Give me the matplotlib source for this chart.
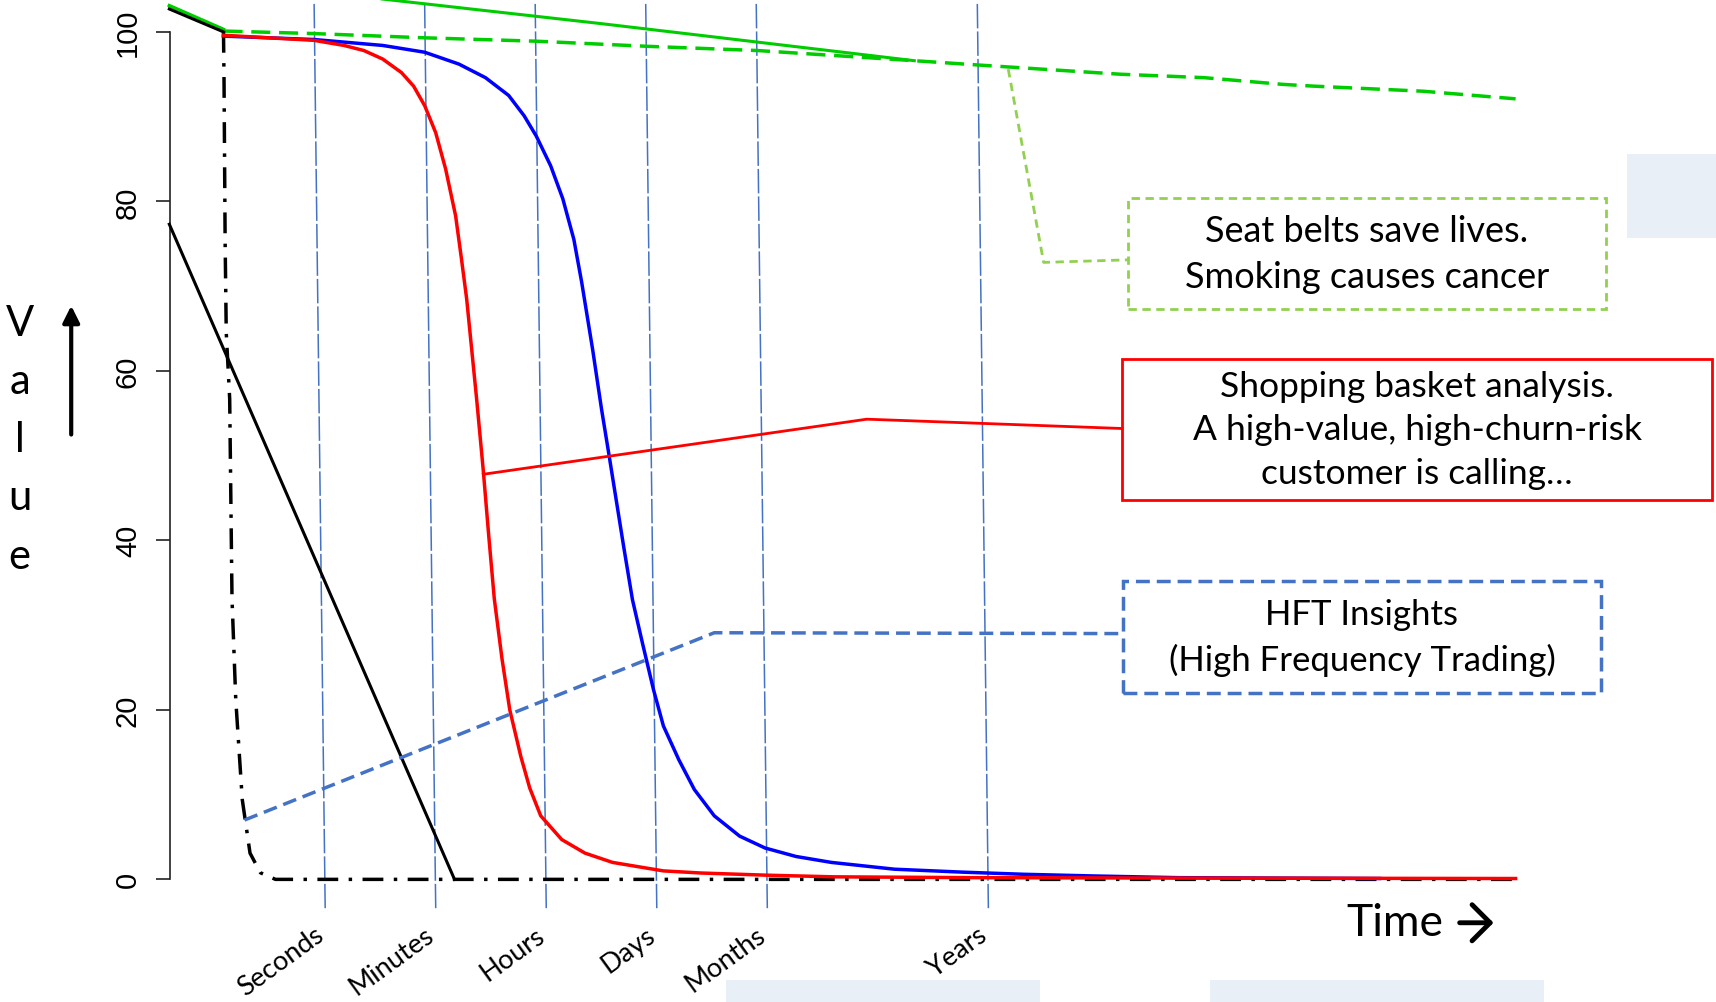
import matplotlib.pyplot as plt
from matplotlib.patches import Rectangle

# time scale: position of each time label on the x axis
time_labels = ["Seconds", "Minutes", "Hours", "Days", "Months", "Years"]
time_pos = [1, 2, 3, 4, 5, 7]

# value curves
red_x = [0.18, 1.0, 1.27, 1.45, 1.62, 1.79, 1.90, 2.0, 2.10, 2.19, 2.28, 2.33, 2.38, 2.47,
         2.53, 2.58, 2.63, 2.70, 2.77, 2.87, 2.95, 3.05, 3.24, 3.45, 3.70, 4.16, 4.50,
         5.08, 5.70, 7.0, 9.0, 11.87]
red_y = [99.6, 99.0, 98.4, 97.8, 96.8, 95.2, 93.6, 91.3, 88.1, 83.8, 78.3, 73.5, 68.5, 56.7,
         48.3, 40.5, 33.1, 26.0, 20.0, 14.5, 10.8, 7.5, 4.7, 3.1, 2.0, 1.0, 0.75,
         0.5, 0.3, 0.2, 0.15, 0.1]

blue_x = [0.18, 1.0, 1.62, 2.0, 2.31, 2.55, 2.76, 2.90, 3.01, 3.14, 3.25, 3.35, 3.42, 3.52,
          3.60, 3.67, 3.80, 3.88, 3.97, 4.07, 4.16, 4.30, 4.44, 4.62, 4.85, 5.08, 5.36,
          5.68, 6.25, 6.87, 7.42, 8.06, 8.83, 10.64]
blue_y = [99.5, 99.1, 98.4, 97.6, 96.2, 94.6, 92.5, 90.1, 87.7, 84.2, 80.3, 75.5, 70.5, 62.5,
          55.5, 49.9, 39.3, 33.0, 27.9, 22.4, 18.1, 14.1, 10.6, 7.5, 5.1, 3.7, 2.7,
          2.0, 1.2, 0.85, 0.6, 0.4, 0.2, 0.1]

green_x = [0.18, 1.0, 2.0, 3.01, 4.01, 5.01, 6.43, 7.0, 8.06, 8.30, 9.05, 9.77, 10.04, 11.03, 11.87]
green_y = [100.1, 99.8, 99.3, 98.9, 98.3, 97.8, 96.6, 96.1, 95.2, 95.0, 94.6, 93.8, 93.6, 93.0, 92.1]

green_solid_x = [-0.31, 3.58, 4.49, 6.43]
green_solid_y = [106.7, 101.0, 99.6, 96.6]

top_x = [-0.31, 0.18]
top_black_y = [102.7, 100.0]
top_green_y = [103.1, 100.3]

black_x = [-0.31, 2.27]
black_y = [77.3, 0.0]

dashdot_x = [0.18, 0.185, 0.195, 0.205, 0.236, 0.257, 0.291, 0.35, 0.42, 0.514, 0.65, 11.87]
dashdot_y = [100.0, 94.0, 75.0, 64.5, 56.7, 33.1, 21.2, 9.4, 3.1, 0.78, 0.0, 0.0]

# callouts: leader lines, boxes (x0, x1, y0, y1) and texts
hft_lead_x = [0.37, 4.62, 8.32]
hft_lead_y = [7.0, 29.1, 29.0]
hft_box = (8.32, 12.64, 22.0, 35.2)
hft_text = "HFT Insights\n(High Frequency Trading)"

red_lead_x = [2.53, 6.0, 8.31]
red_lead_y = [47.8, 54.3, 53.2]
red_box = (8.31, 13.65, 44.8, 61.4)
red_text = "Shopping basket analysis.\nA high-value, high-churn-risk\ncustomer is calling…"

green_lead_x = [7.28, 7.60, 8.36]
green_lead_y = [95.6, 72.8, 73.1]
green_box = (8.36, 12.69, 67.3, 80.4)
green_text = "Seat belts save lives.\nSmoking causes cancer"

label_font = ['Lato', 'DejaVu Sans']

fig = plt.figure(figsize=(17.16, 10.03), dpi=100)
ax = fig.add_axes([0, 0, 1, 1])
ax.set_xlim(-1.842, 13.683)
ax.set_ylim(-14.47, 103.88)
ax.patch.set_alpha(0)

# y axis R-style
for s in ['top', 'right', 'bottom']:
    ax.spines[s].set_visible(False)
ax.spines['left'].set_position(('data', -0.307))
ax.spines['left'].set_bounds(0, 100)
ax.spines['left'].set_linewidth(1.2)
ax.spines['left'].set_color('#222222')
ax.set_yticks([0, 20, 40, 60, 80, 100])
ax.tick_params(axis='y', length=10, width=1.2, color='#222222', pad=10, labelsize=21,
               labelrotation=90)
for lab in ax.get_yticklabels():
    lab.set_family(['Liberation Sans', 'DejaVu Sans'])
    lab.set_va('center')
ax.set_xticks([])

# time gridlines (slightly slanted as in the original)
for p in time_pos:
    ax.plot([p, p + 0.1], [103.3, -3.4], color='#4472C4', lw=1.1, dashes=(16, 2), zorder=1)

ax.plot(green_solid_x, green_solid_y, color='#00CD00', lw=2.2, zorder=2)
ax.plot(green_x, green_y, color='#00CD00', lw=2.5, dashes=(5.5, 2.5), zorder=2)
ax.plot(top_x, top_green_y, color='#00CD00', lw=2.5, zorder=2)
ax.plot(top_x, top_black_y, color='black', lw=2.2, zorder=3)
ax.plot(black_x, black_y, color='black', lw=2.2, zorder=3)
ax.plot(dashdot_x, dashdot_y, color='black', lw=2.5, linestyle=(0, (6, 3, 1, 3)), zorder=3)
ax.plot(blue_x, blue_y, color='#0000FF', lw=2.5, zorder=4)
ax.plot(red_x, red_y, color='#FF0000', lw=2.5, zorder=5)

# callouts
ax.plot(hft_lead_x, hft_lead_y, color='#4472C4', lw=2.5, dashes=(4, 2), zorder=6)
ax.plot(red_lead_x, red_lead_y, color='#FF0000', lw=2, zorder=6)
ax.plot(green_lead_x, green_lead_y, color='#92D050', lw=2, dashes=(3, 2), zorder=6)

boxes = [(hft_box, hft_text, '#4472C4', (0, (4, 2)), 2.5, 25),
         (red_box, red_text, '#FF0000', 'solid', 2, 25.5),
         (green_box, green_text, '#92D050', (0, (3, 2)), 2, 26)]
for (x0, x1, y0, y1), txt, col, ls, lw, fs in boxes:
    ax.add_patch(Rectangle((x0, y0), x1 - x0, y1 - y0, fill=False, edgecolor=col,
                           linestyle=ls, lw=lw, zorder=6))
    ax.text((x0 + x1) / 2, (y0 + y1) / 2, txt, ha='center', va='center', fontsize=fs,
            family=label_font, linespacing=1.45, zorder=7)

# time labels
for p, lbl in zip(time_pos, time_labels):
    ax.text(p + 0.06, -6.2, lbl, rotation=36, ha='right', va='center', rotation_mode='anchor',
            fontsize=19.5, family=label_font)

# axis titles
for i, ch in enumerate("Value"):
    fig.text(0.0115, 0.677 - i * 0.058, ch, ha='center', va='center', fontsize=30,
             family=label_font)
ax.annotate('', xy=(0.0415, 0.697), xytext=(0.0415, 0.563), xycoords='figure fraction',
            textcoords='figure fraction',
            arrowprops=dict(arrowstyle='-|>', lw=3, color='black', mutation_scale=25))
fig.text(0.7844, 0.079, "Time", ha='left', va='center', fontsize=32, family=label_font)
ax.annotate('', xy=(0.872, 0.079), xytext=(0.849, 0.079), xycoords='figure fraction',
            textcoords='figure fraction',
            arrowprops=dict(arrowstyle='->,head_length=0.5,head_width=0.5', lw=3.5,
                            color='black', mutation_scale=26))

# pale placeholder blocks from the slide
for r in [(0.948, 0.762, 0.052, 0.083), (0.423, 0.0, 0.183, 0.022), (0.705, 0.0, 0.195, 0.022)]:
    fig.add_artist(Rectangle((r[0], r[1]), r[2], r[3], transform=fig.transFigure,
                             facecolor='#E9EFF7', edgecolor='none', zorder=0))

fig.savefig('out.png', dpi=100)
